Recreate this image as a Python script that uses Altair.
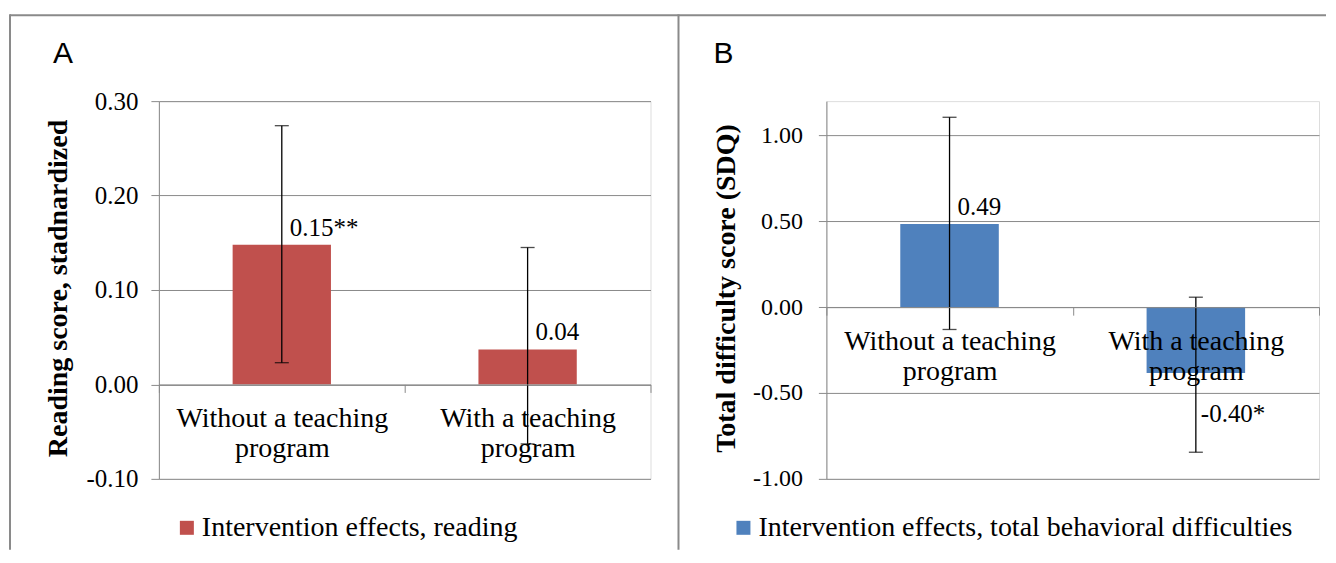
import altair as alt
import pandas as pd

# ---------------- data ----------------
categories = ["Without a teaching\nprogram", "With a teaching\nprogram"]

reading_series = "Intervention effects, reading"
reading_values = [0.148, 0.037]
reading_lo = [0.023, -0.063]
reading_hi = [0.274, 0.145]
reading_labels = ["0.15**", "0.04"]
reading_ticks = [-0.1, 0.0, 0.1, 0.2, 0.3]
reading_domain = [-0.1, 0.3]

sdq_series = "Intervention effects, total behavioral difficulties"
sdq_values = [0.485, -0.383]
sdq_lo = [-0.13, -0.845]
sdq_hi = [1.106, 0.058]
sdq_labels = ["0.49", "-0.40*"]
sdq_ticks = [-1.0, -0.5, 0.0, 0.5, 1.0]
sdq_domain = [-1.0, 1.2]

RED = "#C0504D"
BLUE = "#4F81BD"
GRAY = "#8a8a8a"
SERIF = "Liberation Serif"
SANS = "Liberation Sans"

W_A, W_B, H = 492, 493, 378


def panel(values, lo, hi, labels, series, color, domain, ticks, ytitle,
          letter, letter_x, width, legend_x, border_left, border_right,
          x_axis_offset, neg_label_dy, ylabel_pad, ytick_font):
    df = pd.DataFrame({
        "cat": categories, "value": values, "lo": lo, "hi": hi,
        "label": labels, "series": [series] * len(values),
    })
    one = pd.DataFrame({"k": [0]})

    xscale = alt.Scale(paddingInner=0, paddingOuter=0)
    yscale = alt.Scale(domain=domain, nice=False, zero=False)

    x_axis = alt.Axis(
        title=None, tickBand="extent", offset=x_axis_offset, zindex=1,
        labelAngle=0, labelExpr="split(datum.label, '\\n')",
        labelFont=SERIF, labelFontSize=28, labelColor="black",
        labelLineHeight=30, labelBaseline="top", labelPadding=12,
        tickSize=8, tickColor=GRAY, domainColor=GRAY, domainWidth=1,
        labelLimit=1000, grid=False,
    )
    y_axis = alt.Axis(
        values=ticks, grid=True, gridColor=GRAY, gridWidth=1,
        labelExpr="replace(format(datum.value, '.2f'), '\u2212', '-')",
        labelFont=SERIF, labelFontSize=ytick_font, labelColor="black",
        labelPadding=ylabel_pad,
        tickSize=8, tickColor=GRAY, domainColor=GRAY, domainWidth=1,
        title=ytitle, titleFont=SERIF, titleFontSize=28, titleFontWeight="bold",
        titleColor="black", titleAngle=270, titleAlign="center",
        titleBaseline="middle", titleX=-100, titleY=H / 2 - 2,
    )

    x_enc = alt.X("cat:N", sort=categories, scale=xscale, axis=x_axis)

    base = alt.Chart(df)

    bars = base.mark_bar(width=alt.RelativeBandSize(0.4)).encode(
        x=x_enc,
        y=alt.Y("value:Q", scale=yscale, axis=y_axis),
        y2=alt.datum(0),
        color=alt.Color(
            "series:N",
            scale=alt.Scale(domain=[series], range=[color]),
            legend=alt.Legend(
                orient="none", legendX=legend_x, legendY=413, title=None,
                symbolType="square", symbolSize=196, symbolStrokeWidth=0,
                labelFont=SERIF, labelFontSize=28, labelColor="black",
                labelLimit=1000, labelOffset=1, padding=0,
            ),
        ),
    )

    err = base.mark_rule(color="black", strokeWidth=1.3).encode(
        x=x_enc,
        y=alt.Y("lo:Q", scale=yscale, axis=y_axis),
        y2="hi:Q",
    )
    cap_lo = base.mark_tick(color="black", size=14, thickness=1.3).encode(
        x=x_enc, y=alt.Y("lo:Q", scale=yscale, axis=y_axis))
    cap_hi = base.mark_tick(color="black", size=14, thickness=1.3).encode(
        x=x_enc, y=alt.Y("hi:Q", scale=yscale, axis=y_axis))

    txt_pos = base.transform_filter("datum.value >= 0").mark_text(
        align="left", baseline="middle", dx=8, dy=-17,
        font=SERIF, fontSize=25, color="black",
    ).encode(x=x_enc, y=alt.Y("value:Q", scale=yscale, axis=y_axis), text="label:N")
    txt_neg = base.transform_filter("datum.value < 0").mark_text(
        align="left", baseline="middle", dx=5, dy=neg_label_dy,
        font=SERIF, fontSize=25, color="black",
    ).encode(x=x_enc, y=alt.Y("value:Q", scale=yscale, axis=y_axis), text="label:N")

    letter_mark = alt.Chart(one).mark_text(
        text=letter, font=SANS, fontSize=30, align="left",
        baseline="alphabetic", color="black",
    ).encode(x=alt.value(letter_x), y=alt.value(-38))

    top_border = alt.Chart(one).mark_rule(color=GRAY, strokeWidth=2).encode(
        x=alt.value(border_left), x2=alt.value(border_right), y=alt.value(-86))
    left_border = alt.Chart(one).mark_rule(color=GRAY, strokeWidth=2).encode(
        x=alt.value(border_left), y=alt.value(-87), y2=alt.value(449))

    return alt.layer(
        bars, err, cap_lo, cap_hi, txt_pos, txt_neg,
        letter_mark, top_border, left_border,
    ).properties(width=width, height=H)


# x axis sits on the zero line
off_a = -(H - H * (reading_domain[1] - 0) / (reading_domain[1] - reading_domain[0]))
off_b = -(H - H * (sdq_domain[1] - 0) / (sdq_domain[1] - sdq_domain[0]))

panel_a = panel(reading_values, reading_lo, reading_hi, reading_labels,
                reading_series, RED, reading_domain, reading_ticks,
                "Reading score, stadnardized", "A", -106, W_A, 14, -149, 520,
                off_a, 41, 13, 25)
panel_b = panel(sdq_values, sdq_lo, sdq_hi, sdq_labels,
                sdq_series, BLUE, sdq_domain, sdq_ticks,
                "Total difficulty score (SDQ)", "B", -113, W_B, -97, -148, 500,
                off_b, 41, 16, 24)

chart = alt.hconcat(panel_a, panel_b, spacing=176, bounds="flush").resolve_scale(
    color="independent", x="independent", y="independent"
).resolve_legend(color="independent").properties(
    padding={"left": 0, "top": 4, "right": 0, "bottom": 0}
).configure_view(strokeWidth=0).configure(background="white")

chart.save("out.html", embed_options={"renderer": "svg", "actions": False})
